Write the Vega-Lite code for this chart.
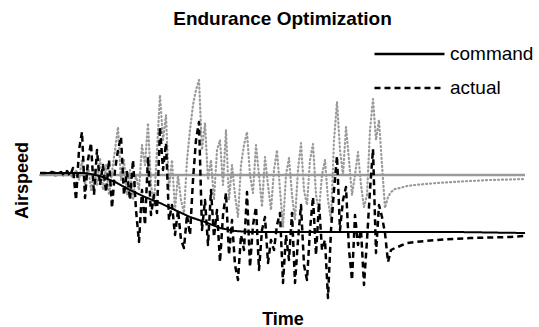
{
"$schema": "https://vega.github.io/schema/vega-lite/v6.json",
"width": 485, "height": 240,
"autosize": {"type": "none"},
"padding": {"left": 40, "top": 60, "right": 14, "bottom": 27},
"background": "white",
"title": {"text": "Endurance Optimization", "font": "Liberation Sans", "fontSize": 19, "fontWeight": "bold", "anchor": "middle", "frame": "group", "offset": 9, "color": "black"},
"config": {
 "view": {"stroke": null},
 "axis": {"labels": false, "ticks": false, "domain": false, "grid": false, "titleFont": "Liberation Sans", "titleFontSize": 18, "titleFontWeight": "bold", "titleColor": "black"},
 "axisX": {"titlePadding": 10},
 "axisY": {"titlePadding": 9},
 "legend": {"orient": "none", "legendX": 333, "legendY": -22, "clipHeight": 32, "rowPadding": 2, "symbolType": "stroke", "symbolSize": 4900, "symbolStrokeWidth": 2.5, "symbolStrokeColor": "black", "labelFontSize": 19, "labelFont": "Liberation Sans", "labelColor": "black", "padding": 0, "labelOffset": 4}
},
"data": {"values": [
{"t":0,"gc":125,"bc":127,"ga":125,"ba":127},
{"t":3,"gc":125,"bc":127,"ga":125,"ba":127},
{"t":6,"gc":125,"bc":127,"ga":125,"ba":127},
{"t":9,"gc":125,"bc":127,"ga":125,"ba":127},
{"t":12,"gc":125,"bc":127,"ga":126,"ba":128},
{"t":15,"gc":125,"bc":127,"ga":124,"ba":127},
{"t":18,"gc":125,"bc":127,"ga":125,"ba":126},
{"t":21,"gc":125,"bc":127,"ga":126,"ba":128},
{"t":24,"gc":125,"bc":127,"ga":124,"ba":125},
{"t":27,"gc":125,"bc":127,"ga":125,"ba":129},
{"t":30,"gc":125,"bc":127,"ga":127,"ba":124},
{"t":33,"gc":125,"bc":127,"ga":122,"ba":132},
{"t":36,"gc":125,"bc":127,"ga":130,"ba":100},
{"t":39,"gc":125,"bc":127,"ga":120,"ba":150},
{"t":42,"gc":125,"bc":127,"ga":140,"ba":168},
{"t":45,"gc":125,"bc":127,"ga":115,"ba":102},
{"t":48,"gc":125,"bc":126.5,"ga":135,"ba":140},
{"t":51,"gc":125,"bc":126,"ga":110,"ba":157},
{"t":54,"gc":125,"bc":125.2,"ga":130,"ba":105},
{"t":57,"gc":125,"bc":124.6,"ga":115,"ba":150},
{"t":60,"gc":125,"bc":124,"ga":142,"ba":115},
{"t":63,"gc":125,"bc":122.8,"ga":110,"ba":135},
{"t":66,"gc":125,"bc":121.6,"ga":135,"ba":108},
{"t":69,"gc":125,"bc":120.4,"ga":105,"ba":140},
{"t":72,"gc":125,"bc":119.2,"ga":128,"ba":92},
{"t":75,"gc":125,"bc":118,"ga":150,"ba":130},
{"t":78,"gc":125,"bc":116.4,"ga":173,"ba":150},
{"t":81,"gc":125,"bc":114.8,"ga":120,"ba":163},
{"t":84,"gc":125,"bc":113.2,"ga":140,"ba":105},
{"t":87,"gc":125,"bc":111.6,"ga":105,"ba":128},
{"t":90,"gc":125,"bc":110,"ga":130,"ba":100},
{"t":93,"gc":125,"bc":108.6,"ga":100,"ba":140},
{"t":96,"gc":125,"bc":107.2,"ga":125,"ba":90},
{"t":99,"gc":125,"bc":105.8,"ga":110,"ba":58},
{"t":102,"gc":125,"bc":104.4,"ga":155,"ba":110},
{"t":105,"gc":125,"bc":103,"ga":135,"ba":75},
{"t":108,"gc":125,"bc":101.8,"ga":177,"ba":143},
{"t":111,"gc":125,"bc":100.6,"ga":115,"ba":85},
{"t":114,"gc":125,"bc":99.4,"ga":95,"ba":105},
{"t":117,"gc":125,"bc":98.2,"ga":150,"ba":87},
{"t":120,"gc":125,"bc":97,"ga":205,"ba":173},
{"t":123,"gc":125,"bc":95.6,"ga":160,"ba":130},
{"t":126,"gc":125,"bc":94.2,"ga":185,"ba":157},
{"t":129,"gc":125,"bc":92.8,"ga":110,"ba":80},
{"t":132,"gc":125,"bc":91.4,"ga":140,"ba":95},
{"t":135,"gc":125,"bc":90,"ga":90,"ba":65},
{"t":138,"gc":125,"bc":88.6,"ga":125,"ba":90},
{"t":141,"gc":125,"bc":87.2,"ga":100,"ba":60},
{"t":144,"gc":125,"bc":85.8,"ga":87,"ba":52},
{"t":147,"gc":125,"bc":84.4,"ga":140,"ba":85},
{"t":150,"gc":125,"bc":83,"ga":170,"ba":65},
{"t":153,"gc":125,"bc":82,"ga":195,"ba":120},
{"t":156,"gc":125,"bc":81,"ga":210,"ba":160},
{"t":159,"gc":125,"bc":80,"ga":220,"ba":178},
{"t":162,"gc":125,"bc":79,"ga":150,"ba":70},
{"t":165,"gc":125,"bc":78,"ga":177,"ba":100},
{"t":168,"gc":125,"bc":76.8,"ga":120,"ba":55},
{"t":171,"gc":125,"bc":75.6,"ga":140,"ba":110},
{"t":174,"gc":125,"bc":74.4,"ga":100,"ba":63},
{"t":177,"gc":125,"bc":73.2,"ga":150,"ba":90},
{"t":180,"gc":125,"bc":72,"ga":160,"ba":38},
{"t":183,"gc":125,"bc":71.4,"ga":115,"ba":85},
{"t":186,"gc":125,"bc":70.8,"ga":170,"ba":107},
{"t":189,"gc":125,"bc":70.2,"ga":100,"ba":45},
{"t":192,"gc":125,"bc":69.6,"ga":135,"ba":80},
{"t":195,"gc":125,"bc":69,"ga":105,"ba":35},
{"t":198,"gc":125,"bc":68.8,"ga":83,"ba":20},
{"t":201,"gc":125,"bc":68.6,"ga":135,"ba":65},
{"t":204,"gc":125,"bc":68.4,"ga":155,"ba":50},
{"t":207,"gc":125,"bc":68.2,"ga":168,"ba":108},
{"t":210,"gc":125,"bc":68,"ga":125,"ba":33},
{"t":213,"gc":125,"bc":68,"ga":107,"ba":75},
{"t":216,"gc":125,"bc":68,"ga":155,"ba":93},
{"t":219,"gc":125,"bc":68,"ga":125,"ba":30},
{"t":222,"gc":125,"bc":68,"ga":93,"ba":70},
{"t":225,"gc":125,"bc":68,"ga":143,"ba":83},
{"t":228,"gc":125,"bc":68,"ga":115,"ba":37},
{"t":231,"gc":125,"bc":68,"ga":90,"ba":60},
{"t":234,"gc":125,"bc":68,"ga":130,"ba":50},
{"t":237,"gc":125,"bc":68,"ga":150,"ba":75},
{"t":240,"gc":125,"bc":68,"ga":110,"ba":87},
{"t":243,"gc":125,"bc":68,"ga":73,"ba":17},
{"t":246,"gc":125,"bc":68,"ga":125,"ba":65},
{"t":249,"gc":125,"bc":68,"ga":142,"ba":40},
{"t":252,"gc":125,"bc":68,"ga":105,"ba":87},
{"t":255,"gc":125,"bc":68,"ga":80,"ba":17},
{"t":258,"gc":125,"bc":68,"ga":130,"ba":60},
{"t":261,"gc":125,"bc":68,"ga":157,"ba":95},
{"t":264,"gc":125,"bc":68,"ga":110,"ba":35},
{"t":267,"gc":125,"bc":68,"ga":95,"ba":20},
{"t":270,"gc":125,"bc":68,"ga":140,"ba":70},
{"t":273,"gc":125,"bc":68,"ga":156,"ba":103},
{"t":276,"gc":125,"bc":68,"ga":105,"ba":45},
{"t":279,"gc":125,"bc":68,"ga":90,"ba":97},
{"t":282,"gc":125,"bc":68,"ga":125,"ba":50},
{"t":285,"gc":125,"bc":68,"ga":140,"ba":60},
{"t":288,"gc":125,"bc":68,"ga":100,"ba":2},
{"t":291,"gc":125,"bc":68,"ga":80,"ba":70},
{"t":294,"gc":125,"bc":68,"ga":160,"ba":110},
{"t":297,"gc":125,"bc":68,"ga":198,"ba":144},
{"t":300,"gc":125,"bc":68,"ga":150,"ba":70},
{"t":303,"gc":125,"bc":68,"ga":125,"ba":100},
{"t":306,"gc":125,"bc":68,"ga":173,"ba":113},
{"t":309,"gc":125,"bc":68,"ga":140,"ba":50},
{"t":312,"gc":125,"bc":68,"ga":105,"ba":20},
{"t":315,"gc":125,"bc":68,"ga":125,"ba":85},
{"t":318,"gc":125,"bc":68,"ga":148,"ba":55},
{"t":321,"gc":125,"bc":68,"ga":115,"ba":70},
{"t":324,"gc":125,"bc":68,"ga":93,"ba":15},
{"t":327,"gc":125,"bc":68,"ga":105,"ba":60},
{"t":330,"gc":125,"bc":68,"ga":170,"ba":110},
{"t":333,"gc":125,"bc":68,"ga":201,"ba":151},
{"t":336,"gc":125,"bc":68,"ga":160,"ba":47},
{"t":339,"gc":125,"bc":68,"ga":180,"ba":95},
{"t":342,"gc":125,"bc":68,"ga":135,"ba":83},
{"t":345,"gc":125,"bc":68,"ga":92,"ba":67},
{"t":348,"gc":125,"bc":68,"ga":103,"ba":38},
{"t":351,"gc":125,"bc":68,"ga":108,"ba":50},
{"t":355,"gc":125,"bc":68,"ga":111,"ba":52},
{"t":360,"gc":125,"bc":68,"ga":112,"ba":54},
{"t":367,"gc":125,"bc":68,"ga":114,"ba":57},
{"t":375,"gc":125,"bc":68,"ga":115,"ba":58},
{"t":385,"gc":125,"bc":68,"ga":116,"ba":59},
{"t":397,"gc":125,"bc":68,"ga":117,"ba":60},
{"t":413,"gc":125,"bc":68,"ga":118,"ba":61},
{"t":430,"gc":125,"bc":67.8,"ga":119,"ba":62},
{"t":450,"gc":125,"bc":67.5,"ga":120,"ba":62.5},
{"t":470,"gc":125,"bc":67.2,"ga":120.5,"ba":63},
{"t":485,"gc":125,"bc":67,"ga":121,"ba":64}
]},
"encoding": {
 "x": {"field": "t", "type": "quantitative", "scale": {"domain": [0, 485], "nice": false, "zero": false}, "axis": {"title": "Time"}}
},
"layer": [
 {"mark": {"type": "line", "color": "#9a9a9a", "strokeWidth": 2.5},
  "encoding": {"y": {"field": "gc", "type": "quantitative", "scale": {"domain": [0, 240], "nice": false}, "axis": {"title": "Airspeed"}}}},
 {"mark": {"type": "line", "color": "#9a9a9a", "strokeWidth": 2.2, "strokeDash": [1, 3], "strokeCap": "round", "strokeJoin": "round"},
  "encoding": {"y": {"field": "ga", "type": "quantitative", "axis": {"title": "Airspeed"}}}},
 {"mark": {"type": "line", "color": "black", "strokeWidth": 2},
  "encoding": {"y": {"field": "bc", "type": "quantitative", "axis": {"title": "Airspeed"}},
   "strokeDash": {"datum": "command", "type": "nominal", "scale": {"domain": ["command", "actual"], "range": [[1, 0], [6, 4]]}, "legend": {"title": null}}}},
 {"mark": {"type": "line", "color": "black", "strokeWidth": 2.5, "strokeJoin": "round"},
  "encoding": {"y": {"field": "ba", "type": "quantitative", "axis": {"title": "Airspeed"}},
   "strokeDash": {"datum": "actual", "type": "nominal"}}}
]
}
